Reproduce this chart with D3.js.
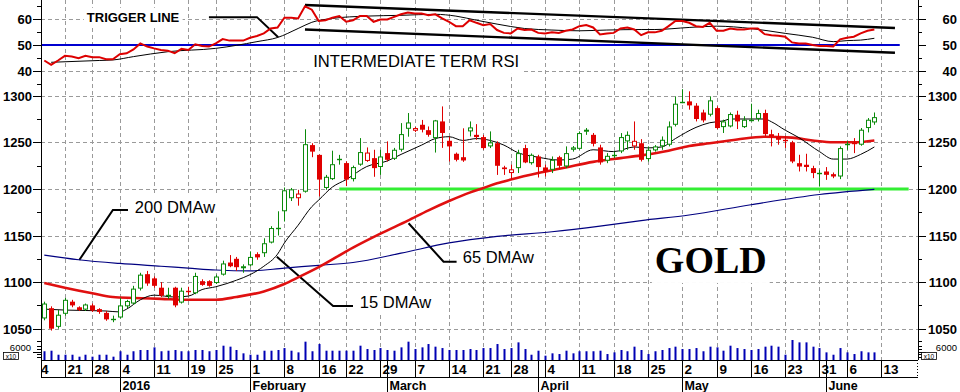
<!DOCTYPE html>
<html><head><meta charset="utf-8">
<script src="https://cdn.jsdelivr.net/npm/d3@7/dist/d3.min.js"></script>
<style>body{margin:0;background:#fff}svg{display:block;font-family:"Liberation Sans",Arial,sans-serif}</style>
</head><body><svg id="c" width="960" height="392"></svg>
<script>
// ---------- DATA ----------
const dates = ["2015-12-16","2015-12-17","2015-12-18","2015-12-21","2015-12-22","2015-12-23","2015-12-24","2015-12-28","2015-12-29","2015-12-30","2015-12-31",
"2016-01-04","2016-01-05","2016-01-06","2016-01-07","2016-01-08","2016-01-11","2016-01-12","2016-01-13","2016-01-14","2016-01-15","2016-01-19","2016-01-20","2016-01-21","2016-01-22","2016-01-25","2016-01-26","2016-01-27","2016-01-28","2016-01-29",
"2016-02-01","2016-02-02","2016-02-03","2016-02-04","2016-02-05","2016-02-08","2016-02-09","2016-02-10","2016-02-11","2016-02-12","2016-02-16","2016-02-17","2016-02-18","2016-02-19","2016-02-22","2016-02-23","2016-02-24","2016-02-25","2016-02-26","2016-02-29",
"2016-03-01","2016-03-02","2016-03-03","2016-03-04","2016-03-07","2016-03-08","2016-03-09","2016-03-10","2016-03-11","2016-03-14","2016-03-15","2016-03-16","2016-03-17","2016-03-18","2016-03-21","2016-03-22","2016-03-23","2016-03-24","2016-03-28","2016-03-29","2016-03-30","2016-03-31",
"2016-04-01","2016-04-04","2016-04-05","2016-04-06","2016-04-07","2016-04-08","2016-04-11","2016-04-12","2016-04-13","2016-04-14","2016-04-15","2016-04-18","2016-04-19","2016-04-20","2016-04-21","2016-04-22","2016-04-25","2016-04-26","2016-04-27","2016-04-28","2016-04-29",
"2016-05-02","2016-05-03","2016-05-04","2016-05-05","2016-05-06","2016-05-09","2016-05-10","2016-05-11","2016-05-12","2016-05-13","2016-05-16","2016-05-17","2016-05-18","2016-05-19","2016-05-20","2016-05-23","2016-05-24","2016-05-25","2016-05-26","2016-05-27","2016-05-31",
"2016-06-01","2016-06-02","2016-06-03","2016-06-06","2016-06-07","2016-06-08","2016-06-09","2016-06-10"];

const open  = [1061,1072,1052,1066,1079,1073,1070.5,1075,1071,1067,1060.5,1062,1074,1077,1093,1108.5,1104,1094,1086,1094,1078,1091,1088,1101,1101,1099,1108,1121,1125,1115,
1118,1130,1131,1142.4,1157.5,1176,1190,1190,1197,1247,1236.5,1201,1210.5,1231.5,1227.7,1210.5,1226,1230,1233,1223.5,
1238.4,1232.3,1242,1264.5,1262.4,1268.8,1263,1254.5,1272.4,1251.6,1237.7,1234,1261.7,1258,1255.6,1245.6,1249,1223,1217,1222.3,1243.8,1227.6,
1234.8,1223,1220.5,1234,1224.1,1242,1243,1261.7,1258,1244.5,1230.2,1235.6,1240.2,1251,1245.6,1249,1232,1241.3,1245.7,1247.4,1268.8,
1293,1293.9,1289.3,1282,1279.6,1286.7,1266.3,1267,1279.6,1266.3,1273.5,1275.1,1281.4,1258.7,1256.2,1252.8,1249.9,1227.6,1225.9,1222.3,1217,
1218.7,1215.8,1213.3,1247.4,1249.2,1247.4,1265.3,1271.3];
const high  = [1079,1074,1070,1083,1081,1074,1077,1077,1072,1069,1064,1083,1081,1096,1110,1112,1106,1100,1094,1095,1094,1095,1110,1103,1102,1108,1123,1129,1127,1119,
1133,1132,1147,1160,1176,1201.5,1201,1199,1264,1249,1237,1215,1241,1236.5,1229.5,1225,1254.5,1244.5,1242,1242,
1251,1244,1270.6,1281.4,1266.5,1274,1267,1274,1288.5,1256,1239,1265,1272.4,1269.5,1258,1261.7,1251,1224.8,1226,1242,1247.4,1238,
1236.6,1226,1234.8,1235.5,1245.6,1246,1261.7,1265.3,1260,1247.4,1238.4,1240,1259.9,1261.7,1272.4,1253.4,1245.6,1247,1256.3,1272.4,1299.3,
1307,1304.7,1292,1285,1299.3,1288.5,1274.2,1282,1283.9,1278,1291.4,1285,1285,1263.5,1260,1257,1251.6,1236.6,1237.7,1224.8,1220.5,
1223.4,1217.6,1245.6,1251,1254.5,1265.3,1276,1282];
const low   = [1059,1048,1050,1064,1073,1069,1069,1068,1066,1058.5,1057,1061,1072,1076,1091,1096,1094,1084,1082,1073,1077,1086,1087,1096,1095,1098,1107,1116,1112,1110,
1117,1124,1127,1141.5,1150,1165,1187,1182,1196,1234,1192,1199,1209.5,1226,1203,1208,1224.8,1229,1213,1215,
1229.4,1231,1240,1256,1261,1260.6,1256,1239,1244,1229.4,1229.5,1229,1256.3,1252.7,1242,1243.8,1215,1215,1209.7,1217,1227.6,1226,
1212.2,1213.3,1217,1221,1222.3,1240,1242,1258,1245.6,1226,1227.6,1233,1238.4,1242,1242,1229.4,1229.4,1240,1242,1245.6,1267,
1292,1285,1272.4,1271.3,1277.8,1264.2,1260,1266,1264.2,1265.3,1272.4,1272.4,1256.3,1245.6,1247.4,1244,1227.6,1218.7,1218.7,1211.5,1202.5,
1209.7,1211.5,1210.5,1242,1238.4,1246.3,1260.6,1268.8];
const close = [1077,1050,1065,1081,1075,1070,1076,1069.5,1068,1060,1061,1075,1079.7,1093,1108,1098.5,1096,1085.5,1087,1075,1090.8,1089.5,1106.6,1097,1096,1106,1120,1117,1116,1117,
1127,1126.5,1141.7,1158,1158.5,1198.5,1199.5,1195,1248,1240,1210,1213,1226.5,1232.3,1210,1223.4,1239.5,1239,1222.3,1234.8,
1231.2,1242,1258.8,1271.3,1265.3,1263.5,1258,1273.5,1260,1245.6,1231.2,1230.5,1266,1255.6,1243.8,1249.9,1224.8,1221.2,1221,1238.4,1228.4,1236.6,
1223.4,1218.7,1231.2,1224.8,1238.4,1244.5,1259.9,1263.5,1248.4,1228.4,1235.5,1236.6,1255.6,1258,1251.6,1231.2,1242,1245.6,1252.7,1267,1291.4,
1293.9,1289.6,1275,1273.5,1295,1265.3,1272.4,1280.3,1272.4,1274.2,1275,1281.4,1258.8,1256.3,1252.7,1252,1229.4,1224,1223.5,1217,1217.5,
1215.1,1213.3,1243.8,1249.1,1248.6,1263.5,1274.2,1277];
const volume = [6300,6700,3800,3800,3800,2400,3800,2400,3800,3800,2400,6300,3800,6300,7200,7200,9100,6300,6700,7200,
6300,6300,7200,7200,6300,7200,10300,9600,7200,4800,3800,3800,6700,6700,7200,8600,6700,5500,13200,6300,
11500,6700,6700,6700,6700,6700,10300,7900,7200,8600,7200,6700,9100,13200,7900,9100,11500,9600,8600,7200,
7200,7200,7900,7200,8600,8600,11500,7900,8600,12700,7900,3800,6700,3100,4800,4300,6700,4800,6300,6300,
6300,6700,4300,5500,7200,6300,9600,7200,4300,6300,7200,8600,9600,7900,7900,8600,6300,9600,9100,6700,
10300,8600,7900,7200,7900,9600,10300,9600,3800,14400,12700,12700,9600,8600,5500,3800,8600,5500,4300,6300,5500,5500];
const rsi = [44.0,42.3,44.0,45.8,45.5,44.9,45.8,45.3,45.3,44.5,44.5,46.4,46.8,48.3,50.6,49.4,48.7,48.1,47.8,46.8,
48.5,48.1,50.3,49.6,49.4,50.6,52.3,51.7,51.7,51.7,52.8,53.5,54.5,56.4,56.8,60.6,60.6,60.3,65.0,63.7,
59.3,59.6,60.6,61.2,59.0,59.6,61.2,61.2,59.0,59.9,59.9,60.9,61.9,62.6,62.2,62.2,61.5,61.9,60.3,59.0,
57.3,57.3,59.6,58.6,57.7,58.1,55.8,54.7,54.5,56.4,55.8,56.0,54.7,54.5,54.9,54.7,55.5,56.0,57.3,57.7,
56.8,54.1,54.5,54.7,56.4,56.8,56.0,53.8,54.9,54.9,55.5,57.3,59.3,59.3,58.6,57.3,57.0,58.6,55.5,55.5,
56.4,56.0,56.0,56.4,56.4,54.2,53.8,53.6,53.2,51.0,50.6,50.6,50.0,49.6,49.6,49.4,52.2,52.8,53.2,54.5,55.5,56.0];
// [trading-day index, value]
const trigger = [[1,43.3],[8,44.0],[10,44.2],[13,45.5],[18,47.4],[25,48.7],[31,51.3],[34,52.9],[37,56.4],[39,58.8],[42,60.3],[47,61.2],[52,61.5],[57,61.9],[60,61.2],[63,59.6],[66,58.1],[70,56.4],[74,55.8],[78,55.5],[82,55.8],[87,56.0],[89,56.0],[94,56.8],[98,57.3],[103,56.4],[108,54.5],[112,53.0],[115,51.3],[117,51.7],[119,51.9],[121,52.6]];
const ma15 = [[0,1071],[3,1070],[9,1069],[11,1068],[12,1071],[14,1081],[16,1086],[19,1084],[21,1085],[23,1092],[25,1095],[28,1102],[30,1108],[32,1117],[34,1130],[35,1142],[37,1161],[39,1181],[40,1188],[42,1202],[44,1210],[47,1224],[50,1230],[52,1237],[55,1247],[57,1254],[59,1256],[61,1252],[63,1254],[65,1252],[67,1247],[69,1239],[72,1234],[75,1231],[77,1232],[80,1242],[83,1240],[86,1245],[88,1244],[90,1245],[92,1254],[95,1266],[97,1271],[99,1273],[100,1275],[105,1275],[106,1272],[108,1263],[110,1255],[113,1240],[115,1232],[117,1232],[119,1237],[121,1245]];
const ma65 = [[0,1099],[3,1094],[7,1088],[10,1084],[13,1083],[17,1082],[21,1081],[25,1081],[28,1084],[32,1090],[35,1098],[37,1105],[40,1116],[45,1137],[49,1152],[53,1166],[56,1177],[59,1187],[62,1196],[64,1201],[66,1206],[68,1210],[72,1217],[76,1223],[80,1229],[84,1233],[87,1236],[91,1241],[94,1246],[97,1249],[101,1253],[105,1256],[109,1255],[112,1252],[115,1250],[118,1250],[121,1252]];
const ma200 = [[0,1129],[5,1124],[11,1120],[17,1117],[21,1115],[25,1113],[30,1112],[35,1115],[40,1118],[45,1121],[52,1131],[59,1142],[66,1149],[74,1154],[81,1160],[87,1166],[94,1172],[103,1183],[113,1194],[121,1199.5]];
const weekTickIdx = [-2,3,7,11,16,21,25,30,35,40,44,49,54,59,64,68,73,78,83,88,93,98,103,108,113,117,122];
const weekTickLabels = ["14","21","28","4","11","19","25","1","8","16","22","29","7","14","21","28","4","11","18","25","2","9","16","23","31","6","13"];
const monthIdx = [11,30,50,72,93,114];
const monthLabels = ["2016","February","March","April","May","June"];
const rsiTicks = [40,50,60];
const priceTicks = [1050,1100,1150,1200,1250,1300];
const rsiLevel = 50, supportLevel = 1200;
const rsiTrendUpper = [[38,65.5],[124,56.6]];
const rsiTrendLower = [[38,56.0],[124,47.0]];

// ---------- SCALES ----------
const svg = d3.select("#c");
const X0 = 41, X1 = 918, YB = 360;
const x  = d3.scaleLinear().domain([-0.48,127.36]).range([X0,X1]);
const yR = d3.scaleLinear().domain([40,60]).range([70.8,19.2]);
const yP = d3.scaleLinear().domain([1050,1300]).range([328.7,95.7]);
const yV = d3.scaleLinear().domain([0,21600]).range([YB,330]);
const px = v => Math.round(v) + 0.5;
const GREEN = "#0a8a0a", RED = "#e00000";

svg.append("defs").append("clipPath").attr("id","clip")
  .append("rect").attr("x",X0).attr("y",0).attr("width",X1-X0).attr("height",YB);
const clipG = () => svg.append("g").attr("clip-path","url(#clip)");

// ---------- GRID ----------
const grid = clipG().attr("stroke","#9a9a9a").attr("stroke-width",1).attr("stroke-dasharray","4,3");
weekTickIdx.forEach(i => grid.append("line").attr("x1",px(x(i))).attr("x2",px(x(i))).attr("y1",0).attr("y2",YB));
[40,60].forEach(v => grid.append("line").attr("x1",X0).attr("x2",X1).attr("y1",px(yR(v))).attr("y2",px(yR(v))));
priceTicks.forEach(v => grid.append("line").attr("x1",X0).attr("x2",X1).attr("y1",px(yP(v))).attr("y2",px(yP(v))));

// ---------- LABEL BOXES + TEXT ----------
const annG = svg.append("g");
function label(txt, xi, yv, font, pad){
  const t = annG.append("text").attr("x",x(xi)).attr("y",yv).attr("style","font:"+font).attr("fill","#000").text(txt);
  const b = t.node().getBBox();
  annG.insert("rect","text").attr("x",b.x-pad).attr("y",b.y-pad+1).attr("width",b.width+2*pad).attr("height",b.height+2*pad-2).attr("fill","#fff");
  return t;
}

// ---------- VOLUME ----------
const vg = clipG();
vg.selectAll("rect").data(volume).join("rect")
  .attr("x",(d,i)=>Math.round(x(i))-0.5).attr("width",2)
  .attr("y",d=>yV(d)).attr("height",d=>YB-yV(d)).attr("fill","#0000b4");

// ---------- PRICE PANEL ----------
const line = (ys) => d3.line().x(d=>x(d[0])).y(d=>ys(d[1])).curve(d3.curveMonotoneX);
const pg = clipG();
pg.append("line").attr("x1",x(43)).attr("x2",x(126)).attr("y1",yP(supportLevel)).attr("y2",yP(supportLevel))
  .attr("stroke","#33ee33").attr("stroke-width",3);
pg.append("path").attr("d",line(yP)(ma200)).attr("fill","none").attr("stroke","#000080").attr("stroke-width",1.2);
pg.append("path").attr("d",line(yP)(ma65)).attr("fill","none").attr("stroke","#e01010").attr("stroke-width",2.6);
pg.append("path").attr("d",line(yP)(ma15)).attr("fill","none").attr("stroke","#000").attr("stroke-width",1);

// candles
const cg = clipG();
dates.forEach((d,i)=>{
  const o=open[i], h=high[i], l=low[i], c=close[i];
  const up = i===0 ? true : c >= close[i-1];
  const col = up ? GREEN : RED;
  const cx = Math.round(x(i));
  cg.append("line").attr("x1",cx+0.5).attr("x2",cx+0.5).attr("y1",yP(h)).attr("y2",yP(l)).attr("stroke",col).attr("stroke-width",1);
  const top = yP(Math.max(o,c)), bot = yP(Math.min(o,c));
  if (bot-top < 1.6) {
    cg.append("line").attr("x1",cx-2).attr("x2",cx+3).attr("y1",px((top+bot)/2)).attr("y2",px((top+bot)/2)).attr("stroke",col).attr("stroke-width",1.4);
  } else if (c < o) {
    cg.append("rect").attr("x",cx-2).attr("y",top).attr("width",5).attr("height",bot-top).attr("fill",col);
  } else {
    cg.append("rect").attr("x",cx-1.5).attr("y",top+0.5).attr("width",4).attr("height",Math.max(1,bot-top-1)).attr("fill","#fff").attr("stroke",col).attr("stroke-width",1);
  }
});

// ---------- RSI PANEL ----------
const rg = clipG();
rg.append("line").attr("x1",x(-0.5)).attr("x2",x(124.7)).attr("y1",yR(rsiLevel)).attr("y2",yR(rsiLevel)).attr("stroke","#0000d0").attr("stroke-width",2.2);
[rsiTrendUpper, rsiTrendLower].forEach(tl => rg.append("line")
  .attr("x1",x(tl[0][0])).attr("y1",yR(tl[0][1])).attr("x2",x(tl[1][0])).attr("y2",yR(tl[1][1]))
  .attr("stroke","#000").attr("stroke-width",2.4));
rg.append("path").attr("d",line(yR)(trigger)).attr("fill","none").attr("stroke","#000").attr("stroke-width",1);
rg.append("path").attr("d",d3.line().x((d,i)=>x(i)).y(d=>yR(d))(rsi)).attr("fill","none").attr("stroke","#dd0000").attr("stroke-width",2);

// ---------- ANNOTATIONS ----------
const SANS = '"Liberation Sans",Arial,sans-serif';
label("TRIGGER LINE", 6.2, yR(59.0), "bold 13px "+SANS, 3);
label("INTERMEDIATE TERM RSI", 39.2, yR(41.5), "16.6px "+SANS, 4);
label("200 DMAw", 13.2, yP(1174.5), "16.5px "+SANS, 3);
label("15 DMAw", 46.0, yP(1072.2), "16.5px "+SANS, 3);
label("65 DMAw", 61.0, yP(1120.8), "16.5px "+SANS, 3);
label("GOLD", 89.0, yP(1109.8), 'bold 38px "Liberation Serif","Times New Roman",serif', 3);
const leaders = [
  {ys:yR, pts:[[24.0,60.8],[31.0,60.8],[34.1,53.0]]},
  {ys:yP, pts:[[12.2,1177.4],[10.0,1177.4],[5.1,1123.7]]},
  {ys:yP, pts:[[33.9,1127.3],[42.1,1074.4],[45.0,1074.4]]},
  {ys:yP, pts:[[53.1,1163.1],[58.2,1121.9],[60.1,1121.9]]}
];
leaders.forEach(L => annG.append("path").attr("d",d3.line().x(d=>x(d[0])).y(d=>L.ys(d[1]))(L.pts))
  .attr("fill","none").attr("stroke","#000").attr("stroke-width",2));

// ---------- Y AXES ----------
const ax = svg.append("g").attr("stroke","#000");
ax.append("line").attr("x1",X0+0.5).attr("x2",X0+0.5).attr("y1",0).attr("y2",YB);
ax.append("line").attr("x1",X1+0.5).attr("x2",X1+0.5).attr("y1",0).attr("y2",YB);
function yTicks(scale, major, minor){
  major.forEach(v=>{
    const y = px(scale(v));
    ax.append("line").attr("x1",X0-8).attr("x2",X0).attr("y1",y).attr("y2",y);
    ax.append("line").attr("x1",X1).attr("x2",X1+8).attr("y1",y).attr("y2",y);
    svg.append("text").attr("x",32).attr("y",y+4.5).attr("text-anchor","end").attr("style","font:bold 13px "+SANS).text(v);
    svg.append("text").attr("x",957).attr("y",y+4.5).attr("text-anchor","end").attr("style","font:bold 13px "+SANS).text(v);
  });
  minor.forEach(v=>{
    const y = px(scale(v));
    ax.append("line").attr("x1",X0-4).attr("x2",X0).attr("y1",y).attr("y2",y);
    ax.append("line").attr("x1",X1).attr("x2",X1+4).attr("y1",y).attr("y2",y);
  });
}
yTicks(yR, rsiTicks, [35,45,55,65]);
yTicks(yP, priceTicks, [1075,1125,1175,1225,1275]);
// volume axis
[2000,4000,6000,8000,10000,14000].forEach(v=>{
  const y = px(yV(v)), len = v===6000 ? 8 : 4;
  ax.append("line").attr("x1",X0-len).attr("x2",X0).attr("y1",y).attr("y2",y);
  ax.append("line").attr("x1",X1).attr("x2",X1+len).attr("y1",y).attr("y2",y);
});
[[31,921+36],[4,921]].forEach(([lx,rx],k)=>{
  const tx = k===0 ? 31 : 957, bx = k===0 ? 3 : 921;
  svg.append("text").attr("x",tx).attr("y",350.5).attr("text-anchor","end").attr("style","font:9.5px "+SANS).text("6000");
  svg.append("rect").attr("x",bx+0.5).attr("y",352.5).attr("width",15).attr("height",7).attr("fill","#fff").attr("stroke","#000").attr("stroke-width",0.8);
  svg.append("text").attr("x",bx+8).attr("y",358.6).attr("text-anchor","middle").attr("style","font:6.5px "+SANS).text("x10");
});

// ---------- X AXIS ----------
const xa = svg.append("g");
xa.append("line").attr("x1",X0).attr("x2",X1).attr("y1",YB+0.5).attr("y2",YB+0.5).attr("stroke","#000");
xa.append("line").attr("x1",X0).attr("x2",X1).attr("y1",377.5).attr("y2",377.5).attr("stroke","#000");
xa.append("line").attr("x1",X0+0.5).attr("x2",X0+0.5).attr("y1",YB).attr("y2",377).attr("stroke","#000");
xa.append("line").attr("x1",X1-0.5).attr("x2",X1-0.5).attr("y1",YB).attr("y2",377).attr("stroke","#000").attr("stroke-dasharray","1,2");
svg.append("defs").append("clipPath").attr("id","clipx").append("rect").attr("x",X0+1).attr("y",YB).attr("width",X1-X0-1).attr("height",32);
const xl = xa.append("g").attr("clip-path","url(#clipx)");
weekTickIdx.forEach((i,k)=>{
  const xx = px(x(i));
  xl.append("line").attr("x1",xx).attr("x2",xx).attr("y1",YB).attr("y2",377).attr("stroke","#000");
  xl.append("text").attr("x",xx+2).attr("y",374).attr("style","font:bold 13.5px "+SANS).text(weekTickLabels[k]);
});
monthIdx.forEach((i,k)=>{
  const xx = px(x(i));
  xl.append("line").attr("x1",xx).attr("x2",xx).attr("y1",YB).attr("y2",392).attr("stroke","#000");
  xl.append("text").attr("x",xx+2).attr("y",390).attr("style","font:bold 12.5px "+SANS).text(monthLabels[k]);
});
</script></body></html>
